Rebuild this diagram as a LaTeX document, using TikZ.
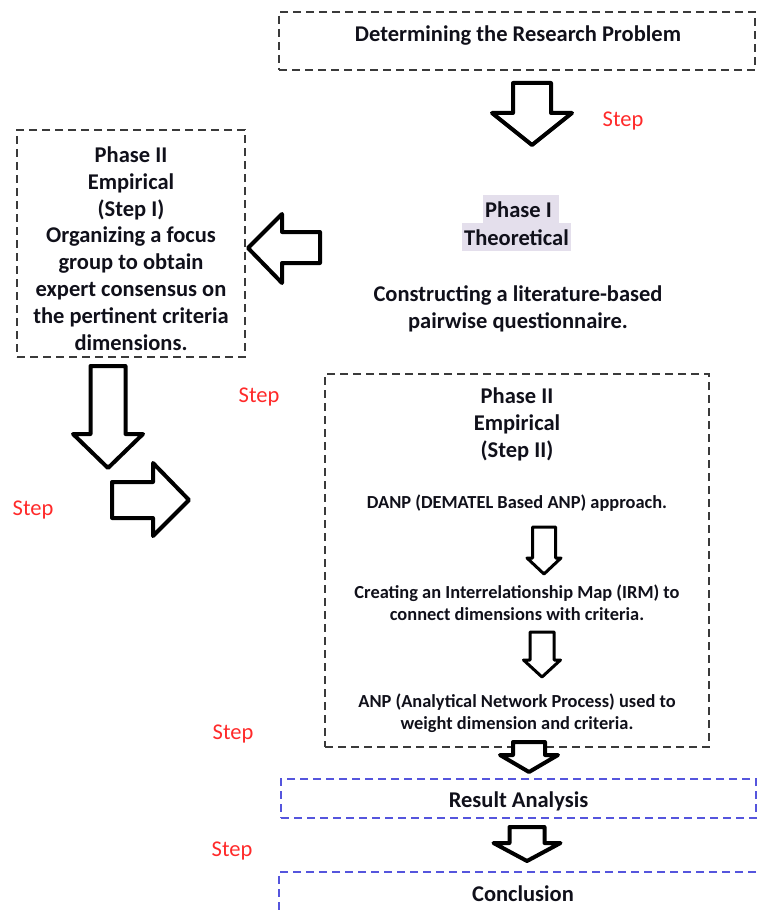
\documentclass[tikz,border=0pt]{standalone}
\usepackage{fontspec}
\setmainfont{Carlito}
\definecolor{boxgray}{HTML}{3A3A3A}
\definecolor{boxblue}{HTML}{5555DD}
\definecolor{stepred}{HTML}{FF2A2A}
\definecolor{hilite}{HTML}{E4DFEC}
\definecolor{ink}{HTML}{10101A}

% block arrow pointing down: centre x, top y, wing y, tip y, shaft half width, head half width
\newcommand\downblock[6]{%
  \draw[blockarrow] ({#1-#5},#2) -- ({#1+#5},#2) -- ({#1+#5},#3) -- ({#1+#6},#3)
    -- (#1,#4) -- ({#1-#6},#3) -- ({#1-#5},#3) -- cycle;}

\begin{document}
\begin{tikzpicture}[x=1pt,y=-1pt,
  every node/.style={inner sep=0pt},
  dbox/.style={draw=boxgray, line width=1.5pt, dash pattern=on 8pt off 5pt},
  bbox/.style={draw=boxblue, line width=1.5pt, dash pattern=on 8pt off 5pt},
  maintxt/.style={text=ink, align=center, font=\bfseries\fontsize{22.5}{26.8}\selectfont},
  smalltxt/.style={text=ink, align=center, font=\bfseries\fontsize{18.4}{22.4}\selectfont},
  steplabel/.style={text=stepred, font=\fontsize{22.5}{26}\selectfont},
  hl/.style={fill=hilite, text=ink, inner xsep=2pt, inner ysep=1pt, text height=21pt, text depth=5pt,
             font=\bfseries\fontsize{22.5}{26.8}\selectfont},
  blockarrow/.style={draw=black, fill=white, line width=4pt, line join=round}]

\useasboundingbox (0,0) rectangle (758,915);
\clip (0,0) rectangle (758,915);

% ---- boxes ----
\node[dbox, minimum width=476pt, minimum height=58pt] (problem) at (517,41) {};
\node[maintxt] (problemtxt) at (518,35.5) {Determining the Research Problem};

\node[dbox, minimum width=228pt, minimum height=227pt] (focus) at (131,243.5) {};
\node[maintxt] (focustxt) at (131,248.5) {Phase II\\Empirical\\(Step I)\\Organizing a focus\\group to obtain\\expert consensus on\\the pertinent criteria\\dimensions.};

\node[hl, anchor=north west] (phaseI) at (483,195) {Phase I\hspace*{5pt}};
\node[hl, anchor=north west] (theor) at (462,223) {Theoretical};
\node[maintxt] (questtxt) at (518,308.5) {Constructing a literature-based\\pairwise questionnaire.};

\node[dbox, minimum width=384pt, minimum height=373pt] (danpbox) at (517,560.5) {};
\node[maintxt] (steptwo) at (517,424.5) {Phase II\\Empirical\\(Step II)};
\node[smalltxt] (danp) at (517,503) {DANP (DEMATEL Based ANP) approach.};
\node[smalltxt] (irm) at (517,603) {Creating an Interrelationship Map (IRM) to\\connect dimensions with criteria.};
\node[smalltxt] (anp) at (517,713.5) {ANP (Analytical Network Process) used to\\weight dimension and criteria.};

\node[bbox, minimum width=475pt, minimum height=39pt] (result) at (518.5,798.5) {};
\node[maintxt] (resulttxt) at (518.5,801.5) {Result Analysis};
\node[bbox, minimum width=486pt, minimum height=90pt] (concl) at (522,917) {};
\node[maintxt] (concltxt) at (523,894) {Conclusion};

% ---- step labels ----
\node[steplabel] (s1) at (623,121) {Step};
\node[steplabel] (s2) at (259,397) {Step};
\node[steplabel] (s3) at (33,510) {Step};
\node[steplabel] (s4) at (233,734) {Step};
\node[steplabel] (s5) at (232,851) {Step};

% ---- block arrows ----
\downblock{532}{83}{113}{145}{19}{40}
% towards the focus-group box
\draw[blockarrow] (248,248) -- (282,214) -- (282,232) -- (320,232) -- (320,263)
  -- (282,263) -- (282,283) -- cycle;
\downblock{108}{366}{434}{468}{17.5}{35}
% towards the DANP box
\draw[blockarrow] (112,482) -- (153,482) -- (153,463) -- (189,500) -- (153,536)
  -- (153,518) -- (112,518) -- cycle;
\begin{scope}[blockarrow/.style={draw=black, fill=white, line width=3pt, line join=round}]
\downblock{544}{527}{558}{574}{11.5}{17}
\downblock{542}{632}{660}{677}{12}{18.5}
\end{scope}
\downblock{529}{742}{755}{772}{16}{29}
\downblock{527}{827}{843}{861}{17.5}{33.5}
\end{tikzpicture}
\end{document}
